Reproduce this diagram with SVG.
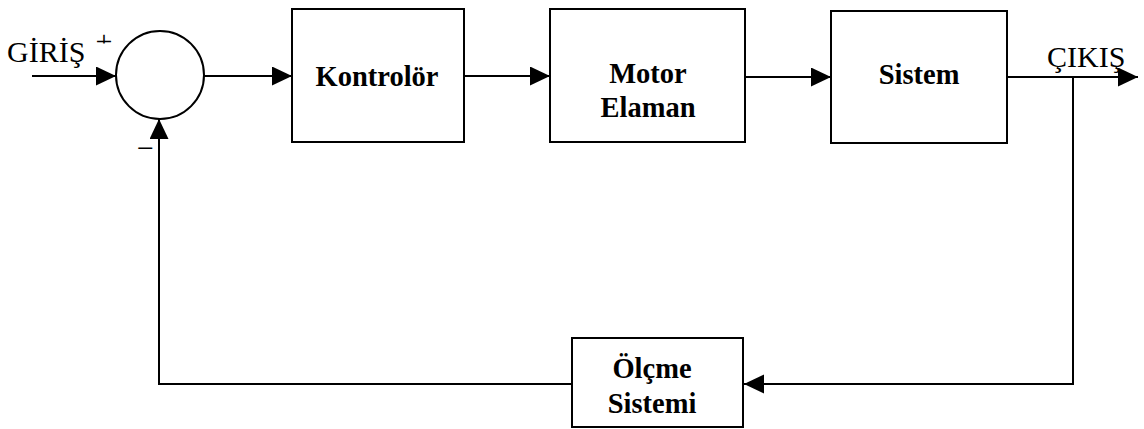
<svg xmlns="http://www.w3.org/2000/svg" width="1144" height="429" viewBox="0 0 1144 429">
  <style>
    .box { fill: #fff; stroke: #000; stroke-width: 2; }
    .wire { fill: none; stroke: #000; stroke-width: 2; }
    .lbl { font-family: "Liberation Serif", "Times New Roman", serif; font-weight: bold; font-size: 28.5px; fill: #000; text-anchor: middle; }
    .io { font-family: "Liberation Serif", "Times New Roman", serif; font-size: 30px; fill: #000; }
  </style>
  <defs>
    <marker id="arr" markerUnits="userSpaceOnUse" markerWidth="21" markerHeight="20" refX="20" refY="9.5" orient="auto">
      <path d="M0,0 L20,9.5 L0,19 Z" fill="#000"/>
    </marker>
    <clipPath id="plusClip"><rect x="85" y="20" width="40" height="23.5"/></clipPath>
  </defs>

  <g id="connectors">
    <line class="wire" x1="32" y1="76" x2="116" y2="76" marker-end="url(#arr)"/>
    <line class="wire" x1="204" y1="76" x2="292" y2="76" marker-end="url(#arr)"/>
    <line class="wire" x1="464" y1="76" x2="550" y2="76" marker-end="url(#arr)"/>
    <line class="wire" x1="745" y1="77" x2="831" y2="77" marker-end="url(#arr)"/>
    <line class="wire" x1="1007" y1="77" x2="1138" y2="77" marker-end="url(#arr)"/>
    <polyline class="wire" points="1073,77 1073,384 744,384" marker-end="url(#arr)"/>
    <polyline class="wire" points="572,384 159,384 159,119" marker-end="url(#arr)"/>
  </g>

  <g id="sum">
    <circle cx="160" cy="75" r="44" fill="#fff" stroke="#000" stroke-width="2"/>
  </g>

  <g id="kontrolor">
    <rect class="box" x="292" y="9" width="172" height="133"/>
    <text class="lbl" x="377" y="86">Kontrolör</text>
  </g>

  <g id="motor">
    <rect class="box" x="550" y="9" width="195" height="133"/>
    <text class="lbl" x="648" y="83">Motor</text>
    <text class="lbl" x="648" y="117">Elaman</text>
  </g>

  <g id="sistem">
    <rect class="box" x="831" y="11" width="176" height="132"/>
    <text class="lbl" x="919" y="84">Sistem</text>
  </g>

  <g id="olcme">
    <rect class="box" x="572" y="338" width="171" height="89"/>
    <text class="lbl" x="652" y="378">Ölçme</text>
    <text class="lbl" x="652" y="413">Sistemi</text>
  </g>

  <g id="labels">
    <text class="io" x="7" y="62">GİRİŞ</text>
    <text class="io" x="1047" y="67">ÇIKIŞ</text>
    <text class="io" x="104" y="51" text-anchor="middle" font-size="36" clip-path="url(#plusClip)">+</text>
    <text class="io" x="145.5" y="158" text-anchor="middle" font-size="40">−</text>
  </g>
</svg>
